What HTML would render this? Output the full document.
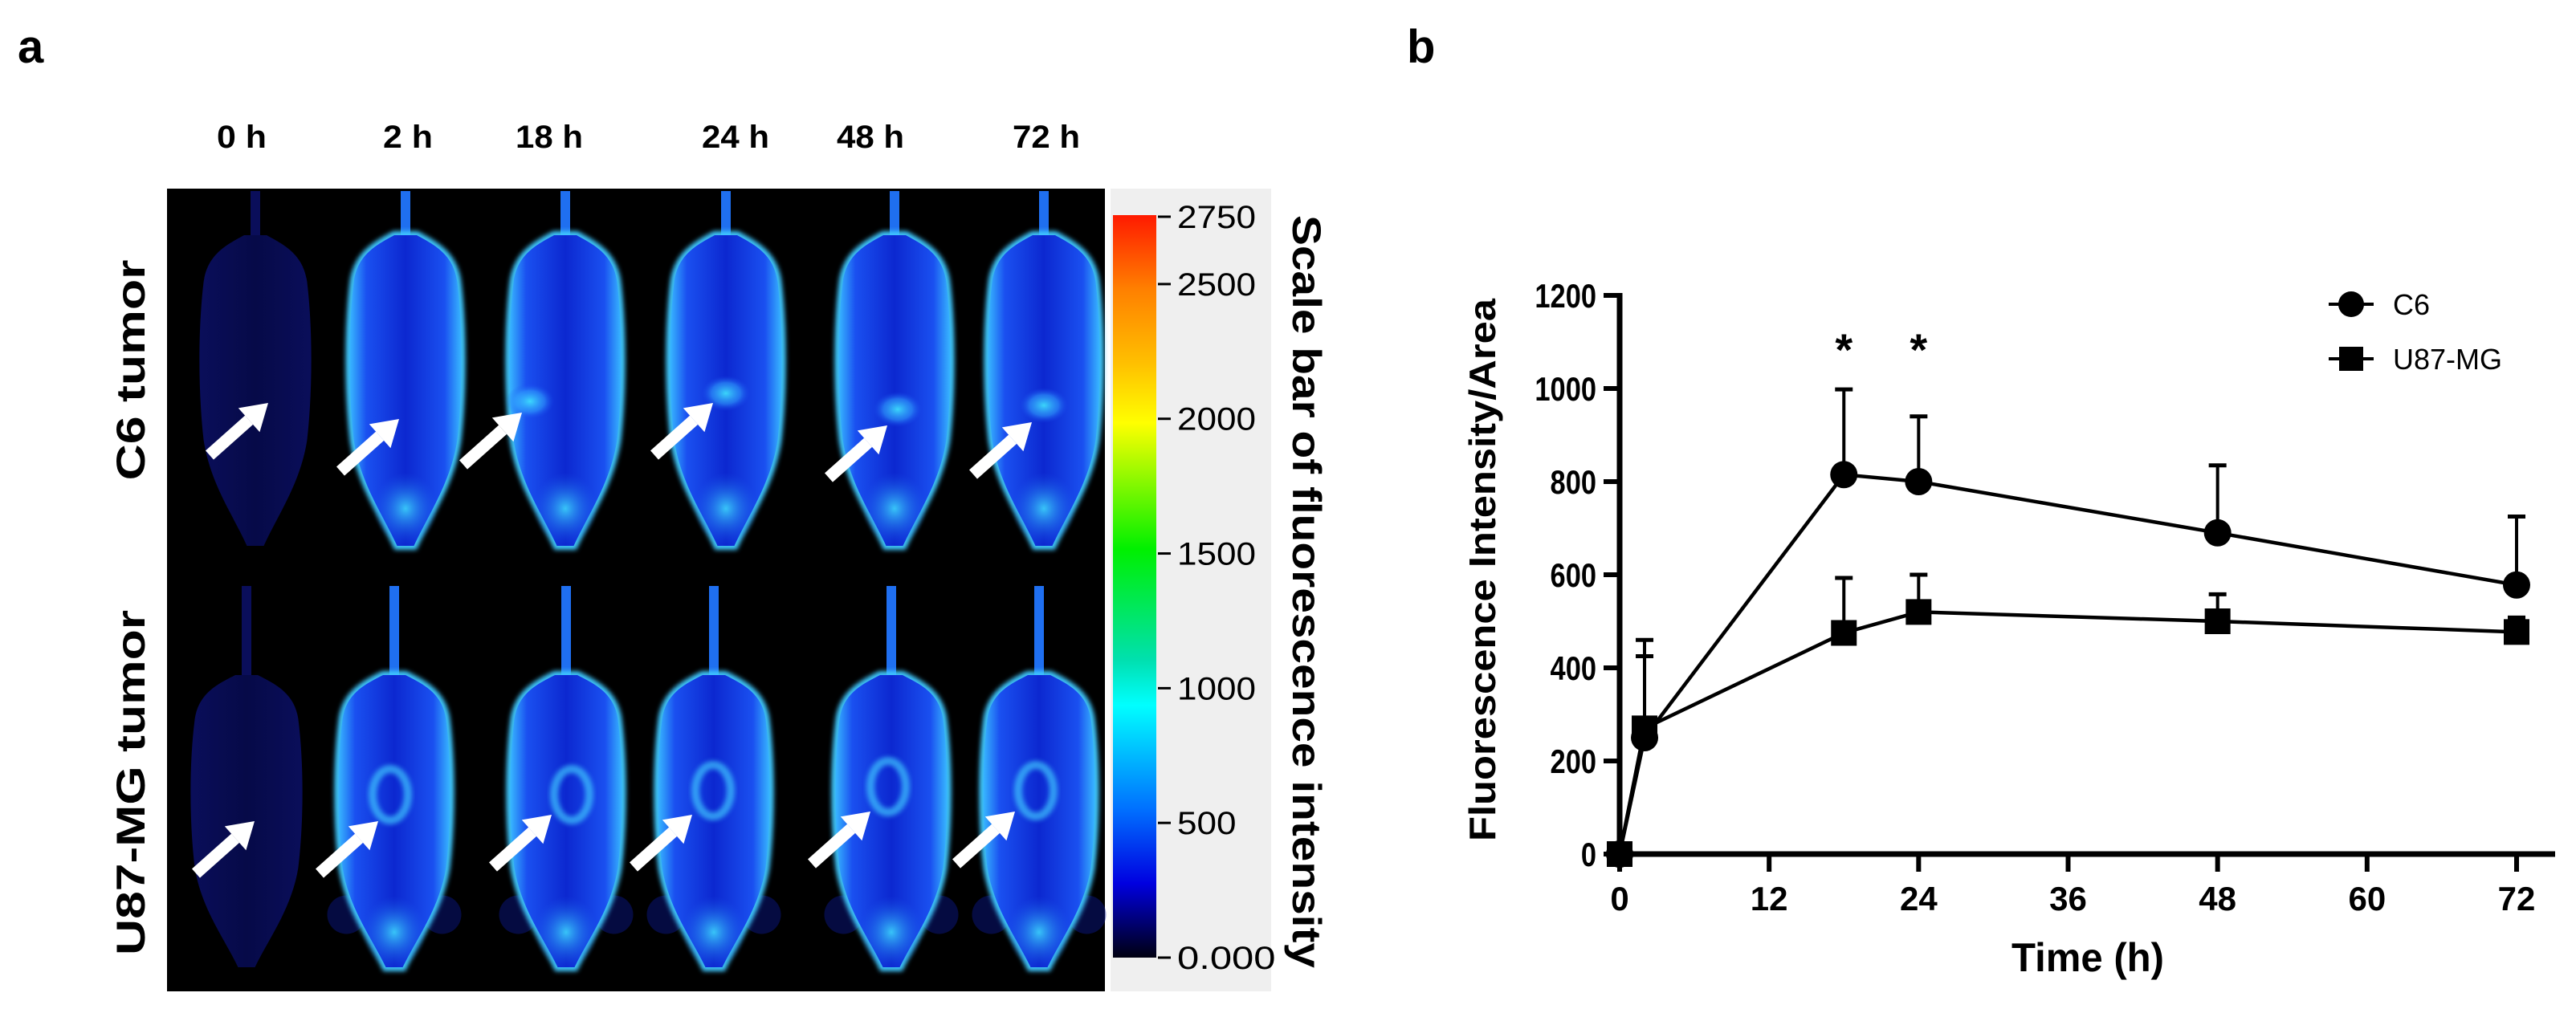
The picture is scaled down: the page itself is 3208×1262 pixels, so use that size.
<!DOCTYPE html>
<html><head><meta charset="utf-8">
<style>
html,body{margin:0;padding:0;background:#fff;}
svg{display:block;}
text{font-family:"Liberation Sans",Arial,sans-serif;}
</style></head>
<body>
<svg id="fig" width="3208" height="1262" viewBox="0 0 3208 1262" xmlns="http://www.w3.org/2000/svg">
<defs>
  <linearGradient id="cbar" x1="0" y1="0" x2="0" y2="1">
    <stop offset="0" stop-color="#ff1a00"/>
    <stop offset="0.1" stop-color="#ff8000"/>
    <stop offset="0.2" stop-color="#ffc000"/>
    <stop offset="0.28" stop-color="#ffff00"/>
    <stop offset="0.45" stop-color="#00f000"/>
    <stop offset="0.6" stop-color="#00e0b0"/>
    <stop offset="0.66" stop-color="#00ffff"/>
    <stop offset="0.8" stop-color="#0070ff"/>
    <stop offset="0.9" stop-color="#0000e0"/>
    <stop offset="1" stop-color="#000010"/>
  </linearGradient>
  <linearGradient id="bodyG" x1="0" y1="0" x2="1" y2="0">
    <stop offset="0" stop-color="#38b8ff"/>
    <stop offset="0.15" stop-color="#1a50f0"/>
    <stop offset="0.5" stop-color="#0c28d0"/>
    <stop offset="0.85" stop-color="#1a50f0"/>
    <stop offset="1" stop-color="#38b8ff"/>
  </linearGradient>
  <linearGradient id="bodyD" x1="0" y1="0" x2="1" y2="0">
    <stop offset="0" stop-color="#0a0e5a"/>
    <stop offset="0.5" stop-color="#060a48"/>
    <stop offset="1" stop-color="#0a0e5a"/>
  </linearGradient>
  <radialGradient id="spot">
    <stop offset="0" stop-color="#40e8ff" stop-opacity="0.9"/>
    <stop offset="0.6" stop-color="#30a0ff" stop-opacity="0.6"/>
    <stop offset="1" stop-color="#1a50f0" stop-opacity="0"/>
  </radialGradient>
  <radialGradient id="head">
    <stop offset="0" stop-color="#40e0ff" stop-opacity="0.85"/>
    <stop offset="1" stop-color="#1a60f0" stop-opacity="0"/>
  </radialGradient>
  <filter id="blur" x="-20%" y="-20%" width="140%" height="140%"><feGaussianBlur stdDeviation="3"/></filter>
</defs>

<!-- Panel a -->
<text x="22" y="78" font-size="58" font-weight="bold">a</text>
<rect x="208" y="235" width="1168" height="1000" fill="#000"/>
<g id="mice"></g>

<g font-weight="bold" font-size="40" text-anchor="middle">
  <text x="301" y="184" textLength="62" lengthAdjust="spacingAndGlyphs">0 h</text>
  <text x="508" y="184" textLength="62" lengthAdjust="spacingAndGlyphs">2 h</text>
  <text x="684" y="184" textLength="84" lengthAdjust="spacingAndGlyphs">18 h</text>
  <text x="916" y="184" textLength="84" lengthAdjust="spacingAndGlyphs">24 h</text>
  <text x="1084" y="184" textLength="84" lengthAdjust="spacingAndGlyphs">48 h</text>
  <text x="1303" y="184" textLength="84" lengthAdjust="spacingAndGlyphs">72 h</text>
</g>
<text transform="translate(180,461) rotate(-90)" text-anchor="middle" font-size="50" font-weight="bold" textLength="275" lengthAdjust="spacingAndGlyphs">C6 tumor</text>
<text transform="translate(180,975) rotate(-90)" text-anchor="middle" font-size="50" font-weight="bold" textLength="430" lengthAdjust="spacingAndGlyphs">U87-MG tumor</text>

<rect x="1383" y="235" width="200" height="1000" fill="#efefef"/>
<rect x="1386" y="268" width="54" height="925" fill="url(#cbar)"/>
<g id="cbticks"></g>
<text transform="translate(1610,268) rotate(90)" font-size="50" font-weight="bold" textLength="938" lengthAdjust="spacingAndGlyphs">Scale bar of fluorescence intensity</text>

<!-- Panel b -->
<text x="1752" y="78" font-size="58" font-weight="bold">b</text>
<g id="chart"></g>
</svg>

<script>
// ---- chart data ----
const timePoints = [0, 2, 18, 24, 48, 72];
const c6Values = [0, 250, 815, 800, 690, 578];
const c6Upper = [0, 460, 998, 940, 835, 725];
const u87Values = [0, 270, 475, 520, 500, 477];
const u87Upper = [0, 425, 593, 600, 558, 508];
const xTicks = [0, 12, 24, 36, 48, 60, 72];
const yTicks = [0, 200, 400, 600, 800, 1000, 1200];
const starTimes = [18, 24];
const cbLabels = ["2750", "2500", "2000", "1500", "1000", "500", "0.000"];
const cbValues = [2750, 2500, 2000, 1500, 1000, 500, 0];

const NS = "http://www.w3.org/2000/svg";
function mk(tag, attrs, parent) {
  const e = document.createElementNS(NS, tag);
  for (const k in attrs) e.setAttribute(k, attrs[k]);
  parent.appendChild(e);
  return e;
}
const X0 = 2017, X1 = 3134, Y0 = 1064, Y1 = 368;
const sx = t => X0 + (t - 0) / 72 * (X1 - X0);
const sy = v => Y0 - v / 1200 * (Y0 - Y1);
const chart = document.getElementById('chart');

// axes
let ax = mk('line', {x1: X0, y1: Y0, x2: X0, y2: Y1 - 3, stroke: '#000', 'stroke-width': 7}, chart);


ax = mk('line', {x1: X0 - 3, y1: Y0, x2: 3182, y2: Y0, stroke: '#000', 'stroke-width': 7}, chart);



yTicks.forEach(v => {
  const y = sy(v);
  mk('line', {x1: X0 - 20, y1: y, x2: X0, y2: y, stroke: '#000', 'stroke-width': 6}, chart);
  const t = mk('text', {x: 1988, y: y + 15, 'font-size': 42, 'font-weight': 'bold', 'text-anchor': 'end', transform: `translate(${1988*0.18},0) scale(0.82,1)`}, chart);
  t.setAttribute('x', 1988 / 0.82 - 1988 * 0.18 / 0.82);
  
  
  t.textContent = v;
});
xTicks.forEach(v => {
  const x = sx(v);
  mk('line', {x1: x, y1: Y0, x2: x, y2: Y0 + 22, stroke: '#000', 'stroke-width': 6}, chart);
  const t = mk('text', {x: x, y: 1134, 'font-size': 42, 'font-weight': 'bold', 'text-anchor': 'middle'}, chart);
  
  
  t.textContent = v;
});
let lab = mk('text', {x: 2600, y: 1210, 'font-size': 50, 'font-weight': 'bold', 'text-anchor': 'middle', textLength: 190, lengthAdjust: 'spacingAndGlyphs'}, chart);


lab.textContent = 'Time (h)';
lab = mk('text', {transform: 'translate(1862,710) rotate(-90)', 'font-size': 46, 'font-weight': 'bold', 'text-anchor': 'middle', textLength: 676, lengthAdjust: 'spacingAndGlyphs'}, chart);


lab.textContent = 'Fluorescence Intensity/Area';

function series(vals, upper, shape, name) {
  const g = mk('g', {}, chart);
  
  
  timePoints.forEach((t, i) => {
    if (upper[i] > vals[i]) {
      const x = sx(t);
      const eb = mk('line', {x1: x, y1: sy(vals[i]), x2: x, y2: sy(upper[i]), stroke: '#000', 'stroke-width': 4}, g);
      
      
      mk('line', {x1: x - 11, y1: sy(upper[i]), x2: x + 11, y2: sy(upper[i]), stroke: '#000', 'stroke-width': 5}, g);
    }
  });
  const pts = timePoints.map((t, i) => sx(t) + ',' + sy(vals[i])).join(' ');
  const pl = mk('polyline', {points: pts, fill: 'none', stroke: '#000', 'stroke-width': 4.5}, g);
  
  
  timePoints.forEach((t, i) => {
    let m;
    if (shape === 'circle') m = mk('circle', {cx: sx(t), cy: sy(vals[i]), r: 17, fill: '#000'}, g);
    else m = mk('rect', {x: sx(t) - 16, y: sy(vals[i]) - 16, width: 32, height: 32, fill: '#000'}, g);
    
    
  });
}
series(c6Values, c6Upper, 'circle', 'c6');
series(u87Values, u87Upper, 'square', 'u87');

starTimes.forEach(t => {
  const s = mk('text', {x: sx(t), y: 455, 'font-size': 56, 'font-weight': 'bold', 'text-anchor': 'middle'}, chart);
  
  
  s.textContent = '*';
});

// legend
const lg = mk('g', {}, chart);


[['C6', 379, 'circle'], ['U87-MG', 447, 'square']].forEach(([n, y, s]) => {
  mk('line', {x1: 2900, y1: y, x2: 2956, y2: y, stroke: '#000', 'stroke-width': 4}, lg);
  if (s === 'circle') mk('circle', {cx: 2928, cy: y, r: 16, fill: '#000'}, lg);
  else mk('rect', {x: 2913, y: y - 15, width: 30, height: 30, fill: '#000'}, lg);
  const t = mk('text', {x: 2980, y: y + 13, 'font-size': 36}, lg);
  
  
  t.textContent = n;
});

// colorbar ticks
const cbT = document.getElementById('cbticks');
const cbY = v => 1193 - v / 2750 * (1193 - 270);
cbValues.forEach((v, i) => {
  const y = cbY(v);
  mk('line', {x1: 1442, y1: y, x2: 1458, y2: y, stroke: '#000', 'stroke-width': 3}, cbT);
  const t = mk('text', {x: 1466, y: y + 14, 'font-size': 40, textLength: cbLabels[i].length * 24.5, lengthAdjust: 'spacingAndGlyphs'}, cbT);
  
  
  t.textContent = cbLabels[i];
});

// mice
const mice = document.getElementById('mice');
const row1X = [318, 505, 704, 904, 1114, 1300];
const row2X = [307, 491, 705, 889, 1110, 1294];
const arrows1 = [[334,502],[497,522],[650,514],[888,502],[1105,530],[1285,526]];
const arrows2 = [[317,1023],[471,1023],[687,1015],[862,1015],[1084,1011],[1264,1011]];
function mouse(cx, top, bot, tailTop, dark, idx, row) {
  const g = mk('g', {}, mice);
  
  
  const h = bot - top, w = 70;
  const p = (fx, fy) => (cx + fx * w) + ',' + (top + fy * h);
  const d = `M${p(-0.2,0)} C${p(-0.5,0.03)} ${p(-0.85,0.06)} ${p(-0.92,0.15)} C${p(-1.02,0.3)} ${p(-1.02,0.5)} ${p(-0.92,0.66)} C${p(-0.8,0.8)} ${p(-0.4,0.9)} ${p(-0.15,1)} L${p(0.15,1)} C${p(0.4,0.9)} ${p(0.8,0.8)} ${p(0.92,0.66)} C${p(1.02,0.5)} ${p(1.02,0.3)} ${p(0.92,0.15)} C${p(0.85,0.06)} ${p(0.5,0.03)} ${p(0.2,0)} Z`;
  if (!dark && row === 2) {
    [[-0.85,0.82],[0.85,0.82]].forEach(([fx, fy]) => mk('ellipse', {cx: cx + fx * w, cy: top + fy * h, rx: 24, ry: 24, fill: '#0a1890', opacity: 0.45}, g));
  }
  mk('path', {d: `M${cx},${tailTop} L${cx},${top + 10}`, stroke: dark ? '#0a0e5a' : '#1f6ff0', 'stroke-width': 12}, g);
  if (!dark) mk('path', {d, fill: 'none', stroke: '#40c8ff', 'stroke-width': 10, filter: 'url(#blur)'}, g);
  mk('path', {d, fill: dark ? 'url(#bodyD)' : 'url(#bodyG)'}, g);
  if (!dark) {
    mk('ellipse', {cx: cx, cy: top + 0.88 * h, rx: 40, ry: 45, fill: 'url(#head)'}, g);
  }
}
row1X.forEach((x, i) => mouse(x, 293, 680, 238, i === 0, i, 1));
row2X.forEach((x, i) => mouse(x, 841, 1205, 730, i === 0, i, 2));
// tumor spots
[[660,500],[904,490],[1118,510],[1300,505]].forEach(([x, y]) => {
  const s = mk('ellipse', {cx: x, cy: y, rx: 30, ry: 22, fill: 'url(#spot)'}, mice);
  
  
});
[[486,990],[712,990],[888,985],[1106,980],[1290,985]].forEach(([x, y]) => {
  const s = mk('ellipse', {cx: x, cy: y, rx: 22, ry: 32, fill: 'none', stroke: '#40c8ff', 'stroke-width': 10, opacity: 0.7, filter: 'url(#blur)'}, mice);
  
  
});
function arrow(tx, ty) {
  const dx = -73, dy = 65, L = Math.hypot(dx, dy);
  const ux = dx / L, uy = dy / L, nx = -uy, ny = ux;
  const bx = tx + ux * 32, by = ty + uy * 32;
  const g = mk('g', {}, mice);
  
  
  mk('line', {x1: bx, y1: by, x2: tx + dx, y2: ty + dy, stroke: '#fff', 'stroke-width': 15}, g);
  mk('polygon', {points: `${tx},${ty} ${bx + nx * 20},${by + ny * 20} ${bx - nx * 20},${by - ny * 20}`, fill: '#fff'}, g);
}
arrows1.forEach(a => arrow(a[0], a[1]));
arrows2.forEach(a => arrow(a[0], a[1]));
</script>
</body></html>
